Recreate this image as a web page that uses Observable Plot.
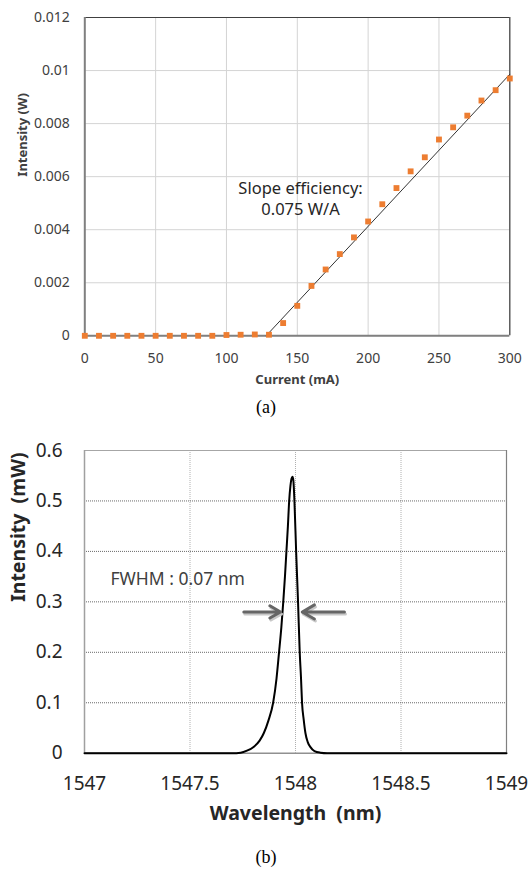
<!DOCTYPE html>
<html><head><meta charset="utf-8">
<script src="https://cdn.jsdelivr.net/npm/d3@7"></script>
<script src="https://cdn.jsdelivr.net/npm/@observablehq/plot@0.6"></script>
<style>
body{margin:0;background:#fff;}
#wrap{position:relative;width:532px;height:870px;background:#fff;}
.panel{position:absolute;left:0;}
.lab{position:absolute;left:0;width:532px;text-align:center;font-family:"Liberation Serif","Times New Roman",serif;font-size:18px;color:#000;line-height:20px;}
</style></head><body><div id="wrap"></div>
<script>
// ---------- Panel (a): L-I curve ----------
const currentMA = [0,10,20,30,40,50,60,70,80,90,100,110,120,130,140,150,160,170,180,190,200,210,220,230,240,250,260,270,280,290,300];
const powerW = [0,0,0,0,0,0,0,0,0,0,0.00003,0.00004,0.00005,0.00004,0.00048,0.00113,0.00188,0.0025,0.00308,0.00371,0.00431,0.00496,0.00557,0.0062,0.00673,0.0074,0.00786,0.0083,0.00887,0.00926,0.0097];
const fitCurrent = [128, 300];
const fitPower = [0, 0.00986];
const xTicksA = [0,50,100,150,200,250,300];
const yTicksA = [0,0.002,0.004,0.006,0.008,0.01,0.012];
const annotA = ["Slope efficiency:", "0.075 W/A"];
const annotAx = [152.3, 152.3];
const annotAy = [0.00554, 0.00475];

// ---------- Panel (b): spectrum ----------
const wavelength = [1547.0,1547.70,1547.74,1547.77,1547.803,1547.83,1547.85,1547.872,1547.894,1547.91,1547.922,1547.933,1547.942,1547.95,1547.957,1547.964,1547.970,1547.976,1547.981,1547.986,1547.990,1547.995,1548.003,1548.012,1548.020,1548.026,1548.031,1548.039,1548.047,1548.058,1548.071,1548.09,1548.118,1548.15,1549.0];
const intensity = [0,0,0.001,0.005,0.013,0.025,0.04,0.065,0.1,0.148,0.2,0.25,0.3,0.35,0.4,0.45,0.5,0.53,0.544,0.548,0.54,0.5,0.4,0.3,0.2,0.15,0.1,0.066,0.04,0.022,0.012,0.004,0.001,0,0];
const xTicksB = [1547,1547.5,1548,1548.5,1549];
const yTicksB = [0,0.1,0.2,0.3,0.4,0.5,0.6];
const arrowX1 = [1547.755, 1548.232];
const arrowX2 = [1547.929, 1548.032];
const arrowY = [0.28, 0.28];
const annotB = ["FWHM : 0.07 nm"];
const annotBx = [1547.123];
const annotBy = [0.345];

const wrap = document.getElementById("wrap");
const font = "'Noto Sans', 'Open Sans', sans-serif";

const ptsA = currentMA.map((c,i)=>({c, p: powerW[i]}));
const fitA = fitCurrent.map((c,i)=>({c, p: fitPower[i]}));
const annA = annotA.map((t,i)=>({t, x: annotAx[i], y: annotAy[i]}));

const plotA = Plot.plot({
  width: 532, height: 400,
  marginTop: 17, marginBottom: 64.7, marginLeft: 84.3, marginRight: 22.7,
  style: {fontFamily: font, fontSize: "14px", color: "#404040", background: "#fff"},
  x: {domain: [0,300]},
  y: {domain: [0,0.012]},
  marks: [
    Plot.gridX(xTicksA, {stroke: "#d4d4d4", strokeOpacity: 1, strokeWidth: 1}),
    Plot.gridY(yTicksA, {stroke: "#d4d4d4", strokeOpacity: 1, strokeWidth: 1}),
    Plot.ruleY([0.012], {stroke: "#404040", strokeWidth: 1.2}),
    Plot.ruleX([300], {stroke: "#404040", strokeWidth: 1.2}),
    Plot.ruleX([0], {stroke: "#808080", strokeWidth: 2}),
    Plot.ruleY([0], {stroke: "#808080", strokeWidth: 2}),
    Plot.line(fitA, {x: "c", y: "p", stroke: "#333", strokeWidth: 1}),
    Plot.dot(ptsA, {x: "c", y: "p", symbol: "square", fill: "#ED7D31", stroke: "none", r: 3.3}),
    Plot.axisX(xTicksA, {tickSize: 0, tickPadding: 17, label: null, fill: "#404040"}),
    Plot.axisY(yTicksA, {tickSize: 0, tickPadding: 15, label: null, fill: "#404040", tickFormat: d => String(d)}),
    Plot.text(["Current (mA)"], {frameAnchor: "bottom", dy: 48, fontWeight: "bold", fontSize: 13, fill: "#404040"}),
    Plot.text(["Intensity (W)"], {frameAnchor: "left", dx: -62, rotate: -90, fontWeight: "bold", fontSize: 13, fill: "#404040"}),
    Plot.text(annA, {x: "x", y: "y", text: "t", fontSize: 16.5, fill: "#262626"})
  ]
});
plotA.classList.add("panel");
plotA.style.top = "0px";
wrap.appendChild(plotA);

const la = document.createElement("div");
la.className = "lab"; la.style.top = "397px"; la.textContent = "(a)";
wrap.appendChild(la);

const spec = wavelength.map((w,i)=>({w, v: intensity[i]}));
const arrows = arrowX1.map((x1,i)=>({x1, x2: arrowX2[i], y: arrowY[i]}));
const annB = annotB.map((t,i)=>({t, x: annotBx[i], y: annotBy[i]}));

const plotB = Plot.plot({
  width: 532, height: 410,
  marginTop: 20, marginBottom: 87.3, marginLeft: 84, marginRight: 26,
  style: {fontFamily: font, fontSize: "19px", color: "#262626", background: "#fff"},
  x: {domain: [1547,1549]},
  y: {domain: [0,0.6]},
  marks: [
    Plot.gridX([1547.5,1548,1548.5], {stroke: "#b0b0b0", strokeOpacity: 1, strokeWidth: 1, strokeDasharray: "1,1"}),
    Plot.gridY([0.1,0.2,0.3,0.4,0.5], {stroke: "#6a6a6a", strokeOpacity: 1, strokeWidth: 1, strokeDasharray: "1,1"}),
    Plot.ruleY([0.6], {stroke: "#a6a6a6", strokeWidth: 1.2}),
    Plot.ruleX([1549], {stroke: "#808080", strokeWidth: 1.2}),
    Plot.ruleX([1547], {stroke: "#a0a0a0", strokeWidth: 1.5}),
    Plot.ruleY([0], {stroke: "#909090", strokeWidth: 1.5}),
    Plot.line(spec, {x: "w", y: "v", stroke: "#000", strokeWidth: 2, curve: "monotone-x"}),
    Plot.arrow(arrows, {x1: "x1", x2: "x2", y1: "y", y2: "y", stroke: "#c8c8c8", strokeWidth: 3, headLength: 9, dy: 2, dx: 1}),
    Plot.arrow(arrows, {x1: "x1", x2: "x2", y1: "y", y2: "y", stroke: "#666", strokeWidth: 3, headLength: 9}),
    Plot.text(annB, {x: "x", y: "y", text: "t", textAnchor: "start", fontSize: 17.5, fill: "#404040"}),
    Plot.axisX(xTicksB, {tickSize: 0, tickPadding: 23, label: null, fill: "#262626", tickFormat: d => String(d)}),
    Plot.axisY(yTicksB, {tickSize: 0, tickPadding: 22, label: null, fill: "#262626", tickFormat: d => String(d)}),
    Plot.text(["Wavelength  (nm)"], {frameAnchor: "bottom", dy: 67, fontWeight: "bold", fontSize: 19.5, fill: "#262626"}),
    Plot.text(["Intensity  (mW)"], {frameAnchor: "left", dx: -66, rotate: -90, fontWeight: "bold", fontSize: 19.5, fill: "#262626"})
  ]
});
plotB.classList.add("panel");
plotB.style.top = "430px";
wrap.appendChild(plotB);

const lb = document.createElement("div");
lb.className = "lab"; lb.style.top = "847px"; lb.textContent = "(b)";
wrap.appendChild(lb);
</script>
</body></html>
